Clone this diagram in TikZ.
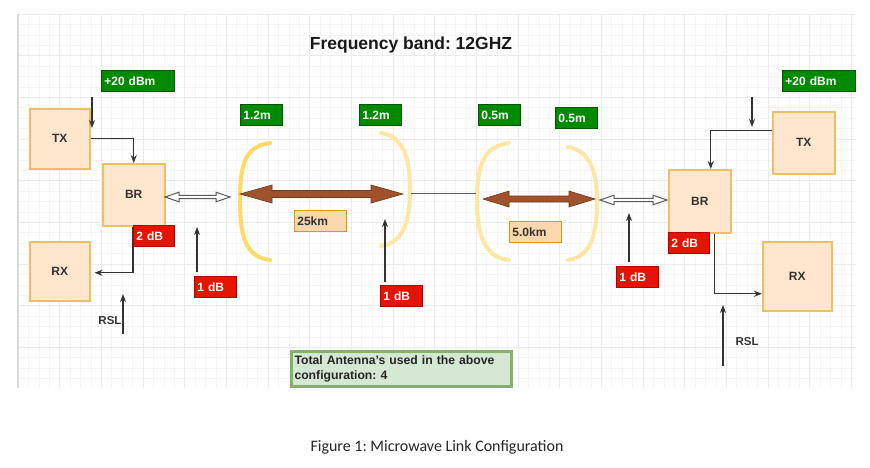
\documentclass[tikz,border=0pt]{standalone}
\usepackage{fontspec}
\setmainfont{Liberation Sans}
\newfontfamily\capfont{Carlito}
\usetikzlibrary{arrows.meta}
\frenchspacing
\definecolor{boxfill}{HTML}{FFE6CC}
\definecolor{boxline}{HTML}{EEC066}
\definecolor{txt}{HTML}{333333}
\definecolor{lgreen}{HTML}{008A00}
\definecolor{lgreenline}{HTML}{005700}
\definecolor{lred}{HTML}{E51400}
\definecolor{lredline}{HTML}{B20000}
\definecolor{dfill}{HTML}{FAD7AC}
\definecolor{dline}{HTML}{D79B00}
\definecolor{arrowc}{HTML}{333333}
\definecolor{antA}{HTML}{FFD966}
\definecolor{antB}{HTML}{FFE7A3}
\definecolor{brownf}{HTML}{A0522D}
\definecolor{brownd}{HTML}{6D3A1A}
\definecolor{totfill}{HTML}{D5E8D4}
\definecolor{totline}{HTML}{82B366}
\definecolor{gridminor}{HTML}{F5F5F5}
\definecolor{gridmajor}{HTML}{EBEBEB}
\definecolor{gridedge}{HTML}{DADADA}
\newcommand{\mydblarrow}[7]{%
  \path[#1] (#2,#4) -- ({#2+#5},{#4-#6}) -- ({#2+#5},{#4-#7}) -- ({#3-#5},{#4-#7})
    -- ({#3-#5},{#4-#6}) -- (#3,#4) -- ({#3-#5},{#4+#6}) -- ({#3-#5},{#4+#7})
    -- ({#2+#5},{#4+#7}) -- ({#2+#5},{#4+#6}) -- cycle;}
\begin{document}
\begin{tikzpicture}[x=1pt,y=-1pt,
  unitbox/.style={draw=boxline, fill=boxfill, line width=1.5pt, anchor=north west,
    inner sep=0pt, minimum width=60pt, minimum height=60pt, text=txt,
    font=\bfseries\fontsize{12}{14}\selectfont},
  glab/.style={fill=lgreen, draw=lgreenline, line width=0.8pt, anchor=north west,
    minimum height=21pt, inner xsep=3pt, inner ysep=0pt, align=left, text=white,
    font=\bfseries\fontsize{12}{14}\selectfont},
  rlab/.style={glab, fill=lred, draw=lredline},
  dlab/.style={glab, fill=dfill, draw=dline, text=txt},
  sig/.style={draw=arrowc, line width=1.2pt, -{Stealth[length=8pt,width=6pt]}},
  ant/.style={line width=4pt, draw=antA, line cap=round},
  antp/.style={ant, draw=antB},
  plain/.style={text=txt, font=\bfseries\fontsize{11.5}{13}\selectfont},
]
\useasboundingbox (0,0) rectangle (870,467);
\fill[white] (0,0) rectangle (870,467);
% grid
\foreach \i in {0,...,80} {\draw[gridminor, line width=0.6pt] ({18+\i*10.4167},14) -- ({18+\i*10.4167},388);}
\foreach \j in {0,...,35} {\draw[gridminor, line width=0.6pt] (18,{14+\j*10.4167}) -- (856,{14+\j*10.4167});}
\foreach \i in {0,...,20} {\draw[gridmajor, line width=0.7pt] ({18+\i*41.667},14) -- ({18+\i*41.667},388);}
\foreach \j in {0,...,8} {\draw[gridmajor, line width=0.7pt] (18,{14+\j*41.667}) -- (856,{14+\j*41.667});}
\draw[gridedge, line width=1.5pt] (18,14) -- (18,388);

% title
\node[text=black!90, font=\bfseries\fontsize{17.5}{20}\selectfont] (title) at (411,45) {Frequency band: 12GHZ};

% units
\node[unitbox] (txL) at (29,108) {TX};
\node[unitbox, minimum width=62pt, minimum height=62pt] (brL) at (102,163) {BR};
\node[unitbox, minimum height=59pt] (rxL) at (29,241) {RX};
\node[unitbox, minimum width=62pt, minimum height=62pt] (txR) at (772,111) {TX};
\node[unitbox, minimum width=62pt, minimum height=63pt] (brR) at (668,169) {BR};
\node[unitbox, minimum width=69pt, minimum height=69pt] (rxR) at (762,241) {RX};

% connectors (left)
\coordinate (pLs) at (92,97); \coordinate (pLe) at (92,128);
\draw[sig] (pLs) -- (pLe);
\draw[sig] (txL.east) -| (brL.north);
\draw[sig] (brL.south -| 133,0) |- ([xshift=4pt,yshift=-1.5pt]rxL.east);
\coordinate (rslLs) at (123,334); \coordinate (rslLe) at (123,294);
\draw[sig] (rslLs) -- (rslLe);
\node[plain, anchor=east] (rslL) at (125,321) {RSL};

% connectors (right)
\coordinate (pRs) at (752,97); \coordinate (pRe) at (752,127);
\draw[sig] (pRs) -- (pRe);
\draw[sig] ([yshift=12.5pt]txR.west) -| ([xshift=11pt]brR.north);
\draw[sig] ([xshift=15pt]brR.south) |- ([yshift=-17.5pt]rxR.west);
\coordinate (rslRs) at (723,366); \coordinate (rslRe) at (723,305);
\draw[sig] (rslRs) -- (rslRe);
\node[plain, anchor=west] (rslR) at (732,342) {RSL};

% antennas
\draw[ant] (270,143) .. controls (245,146) and (240,165) .. (240,200) .. controls (240,235) and (245,257) .. (270,260);
\draw[antp] (381,133) .. controls (404,136) and (410,160) .. (410,190) .. controls (410,220) and (404,243) .. (381,246);
\draw[antp] (509,143) .. controls (484,146) and (477,165) .. (477,200) .. controls (477,235) and (484,257) .. (509,260);
\draw[antp] (568,147) .. controls (590,151) and (597,170) .. (597,203) .. controls (597,236) and (590,257) .. (568,260);
\coordinate (a2r) at (411,193); \coordinate (a3l) at (476,193);
\draw[arrowc!80, line width=0.9pt] (a2r) -- (a3l);

% brown link arrows
\mydblarrow{fill=brownf, draw=brownd, line width=0.6pt}{240}{403}{194}{32}{9}{3.5}
\mydblarrow{fill=brownf, draw=brownd, line width=0.6pt}{483}{595}{199}{26}{8}{3}
% hollow feeder arrows
\mydblarrow{fill=white, draw=black!65, line width=1pt}{165}{230}{197}{14}{4.8}{1.6}
\mydblarrow{fill=white, draw=black!65, line width=1pt}{600}{667}{200}{14}{4.8}{1.6}

% loss arrows
\draw[sig] (197,272) coordinate (l1s) -- (197,227) coordinate (l1e);
\draw[sig] (385,282) coordinate (l2s) -- (385,219) coordinate (l2e);
\draw[sig] (629,262) coordinate (l3s) -- (629,213) coordinate (l3e);

% labels
\node[glab, text width=67pt] (pL) at (101,70) {+20 dBm};
\node[glab, text width=67pt] (pR) at (782,70) {+20 dBm};
\node[rlab, text width=35pt] (dbL) at (133,225) {2 dB};
\node[rlab, text width=35pt] (dbR) at (668,232) {2 dB};
\node[glab, text width=36pt] (a1) at (240,104) {1.2m};
\node[glab, text width=36pt] (a2) at (359,104) {1.2m};
\node[glab, text width=36pt] (a3) at (478,104) {0.5m};
\node[glab, text width=36pt] (a4) at (555,107) {0.5m};
\node[dlab, text width=46pt] (d1) at (294,210) {25km};
\node[dlab, text width=46pt] (d2) at (509,221) {5.0km};
\node[rlab, text width=36pt] (l1) at (194,276) {1 dB};
\node[rlab, text width=36pt] (l2) at (380,285) {1 dB};
\node[rlab, text width=36pt] (l3) at (616,266) {1 dB};

% total box
\node[fill=totfill, draw=totline, line width=3pt, anchor=north west, minimum width=220pt,
  minimum height=35pt, text width=214pt, inner xsep=3pt, inner ysep=1pt, align=left,
  text=black!85, font=\bfseries\fontsize{12.2}{14.5}\selectfont] (tot) at (290,350)
  {Total Antenna's used in the above\\configuration: 4};

% caption
\node[text=black!85, font=\capfont\fontsize{16}{19}\selectfont] (cap) at (437,447)
  {Figure 1: Microwave Link Configuration};
\end{tikzpicture}
\end{document}
